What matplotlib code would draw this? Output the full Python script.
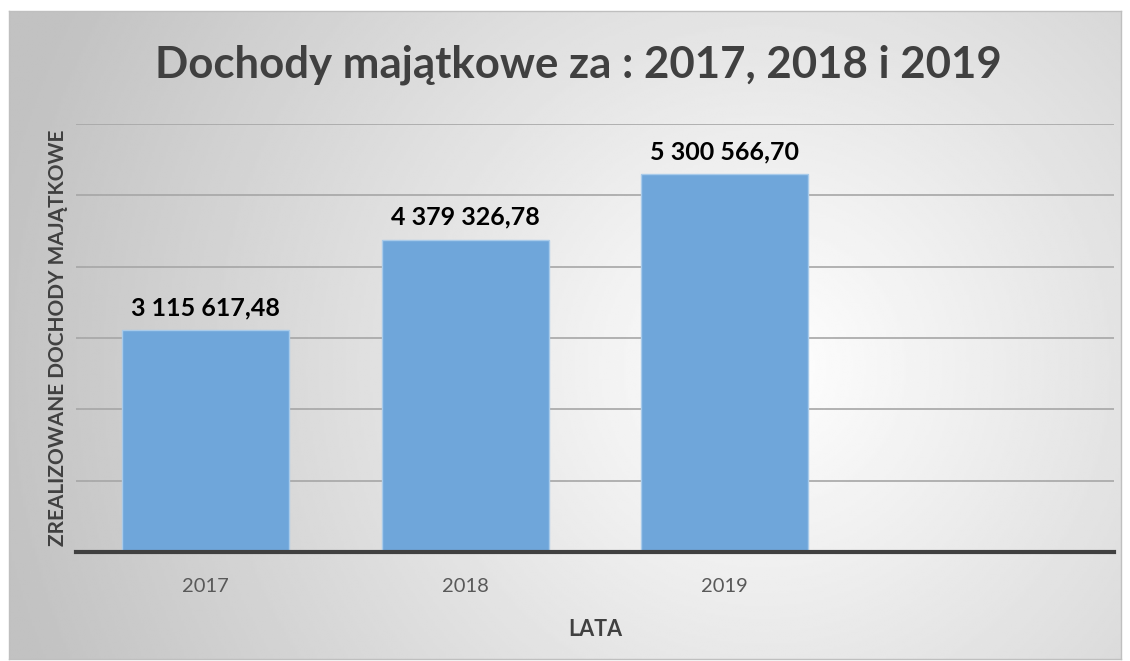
import matplotlib.pyplot as plt
import numpy as np

years = ['2017', '2018', '2019', '']
values = [3115617.48, 4379326.78, 5300566.70, np.nan]
labels = ['3 115 617,48', '4 379 326,78', '5 300 566,70', '']

plt.rcParams['font.family'] = ['Lato', 'DejaVu Sans']

W, H = 1130, 661
fig = plt.figure(figsize=(W / 100, H / 100), dpi=100)
fig.patch.set_facecolor('white')

# chart area with radial gradient background
bx0, by0, bx1, by1 = 9, 11, 1121, 659
bg = fig.add_axes([bx0 / W, 1 - by1 / H, (bx1 - bx0) / W, (by1 - by0) / H])
yy, xx = np.mgrid[0:1:300j, 0:1:500j]
r = np.sqrt(((xx - 0.68) * 1.7) ** 2 + (yy - 0.55) ** 2)
shade = 1 - 0.24 * np.clip(r / 1.2, 0, 1)
bg.imshow(shade, cmap='gray', vmin=0, vmax=1, aspect='auto', extent=[0, 1, 0, 1], interpolation='bilinear')
bg.set_xticks([])
bg.set_yticks([])
for s in bg.spines.values():
    s.set_color('#bfbfbf')
    s.set_linewidth(1)

# plot area
px0, px1, py0, py1 = 76, 1114, 124, 552
ax = fig.add_axes([px0 / W, 1 - py1 / H, (px1 - px0) / W, (py1 - py0) / H])
ax.patch.set_alpha(0)

x = np.arange(len(years))
ax.bar(x, values, width=0.645, color='#6fa6da', edgecolor='#a9cbea', linewidth=1, zorder=3)
for xi, v, lab in zip(x, values, labels):
    if lab:
        ax.text(xi, v + 150000, lab, ha='center', va='bottom', fontsize=18, fontweight='bold', color='black')

ax.set_xlim(-0.5, len(years) - 0.5)
ax.set_ylim(0, 6000000)
ax.set_yticks(np.arange(0, 6000001, 1000000))
ax.yaxis.grid(True, color='#a6a6a6', linewidth=1.2, zorder=0)
ax.tick_params(axis='y', left=False, labelleft=False)
ax.set_xticks(x)
ax.set_xticklabels(years, fontsize=14.5, color='#595959')
ax.tick_params(axis='x', length=0, pad=19)
for side in ['top', 'right', 'left']:
    ax.spines[side].set_visible(False)
ax.spines['bottom'].set_color('#404040')
ax.spines['bottom'].set_linewidth(3)
ax.spines['bottom'].set_zorder(4)

ax.set_xlabel('LATA', fontsize=15.5, fontweight='bold', color='#404040', labelpad=17)
ax.set_ylabel('ZREALIZOWANE DOCHODY MAJĄTKOWE', fontsize=15, fontweight='bold', color='#404040', labelpad=6)

fig.text(578 / W, 1 - 65 / H, 'Dochody majątkowe za : 2017, 2018 i 2019', ha='center', va='center',
         fontsize=31.5, fontweight='bold', color='#404040')

fig.savefig('out.png', dpi=100, facecolor='white')
